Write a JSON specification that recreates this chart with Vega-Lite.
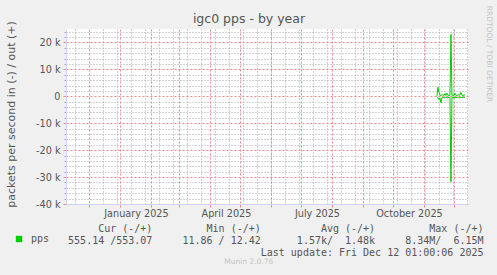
{
  "$schema": "https://vega.github.io/schema/vega-lite/v6.json",
  "width": 402,
  "height": 175,
  "autosize": {"type": "none"},
  "padding": {"left": 66, "top": 29, "right": 29, "bottom": 71},
  "background": "#f0f0f0",
  "config": {
    "view": {"fill": "#ffffff", "stroke": null},
    "axis": {"labelFont": "DejaVu Sans", "titleFont": "DejaVu Sans", "titleFontWeight": "normal", "labelColor": "#555555", "titleColor": "#555555"}
  },
  "title": {"text": "Munin 2.0.76", "orient": "bottom", "anchor": "middle", "frame": "bounds", "font": "DejaVu Sans", "fontSize": 7.5, "fontWeight": "normal", "color": "#c4c4c4", "offset": 1},
  "datasets": {
    "pps": [
      {"t": "2025-11-14T00:00:00Z", "dir": "out", "v": 100},
      {"t": "2025-11-15T00:00:00Z", "dir": "out", "v": 3400},
      {"t": "2025-11-16T00:00:00Z", "dir": "out", "v": 1500},
      {"t": "2025-11-17T00:00:00Z", "dir": "out", "v": 400},
      {"t": "2025-11-18T00:00:00Z", "dir": "out", "v": 300},
      {"t": "2025-11-19T00:00:00Z", "dir": "out", "v": 600},
      {"t": "2025-11-20T00:00:00Z", "dir": "out", "v": 500},
      {"t": "2025-11-21T00:00:00Z", "dir": "out", "v": 300},
      {"t": "2025-11-22T00:00:00Z", "dir": "out", "v": 1000},
      {"t": "2025-11-23T00:00:00Z", "dir": "out", "v": 300},
      {"t": "2025-11-24T00:00:00Z", "dir": "out", "v": 1200},
      {"t": "2025-11-25T00:00:00Z", "dir": "out", "v": 400},
      {"t": "2025-11-26T00:00:00Z", "dir": "out", "v": 400},
      {"t": "2025-11-27T00:00:00Z", "dir": "out", "v": 300},
      {"t": "2025-11-28T00:00:00Z", "dir": "out", "v": 23000},
      {"t": "2025-11-29T00:00:00Z", "dir": "out", "v": 300},
      {"t": "2025-11-30T00:00:00Z", "dir": "out", "v": 500},
      {"t": "2025-12-01T00:00:00Z", "dir": "out", "v": 400},
      {"t": "2025-12-02T00:00:00Z", "dir": "out", "v": 1100},
      {"t": "2025-12-03T00:00:00Z", "dir": "out", "v": 400},
      {"t": "2025-12-04T00:00:00Z", "dir": "out", "v": 300},
      {"t": "2025-12-05T00:00:00Z", "dir": "out", "v": 600},
      {"t": "2025-12-06T00:00:00Z", "dir": "out", "v": 400},
      {"t": "2025-12-07T00:00:00Z", "dir": "out", "v": 500},
      {"t": "2025-12-08T00:00:00Z", "dir": "out", "v": 1500},
      {"t": "2025-12-09T00:00:00Z", "dir": "out", "v": 400},
      {"t": "2025-12-10T00:00:00Z", "dir": "out", "v": 300},
      {"t": "2025-12-11T00:00:00Z", "dir": "out", "v": 500},
      {"t": "2025-12-12T00:00:00Z", "dir": "out", "v": 500},
      {"t": "2025-11-14T00:00:00Z", "dir": "in", "v": -100},
      {"t": "2025-11-15T00:00:00Z", "dir": "in", "v": -600},
      {"t": "2025-11-16T00:00:00Z", "dir": "in", "v": -1200},
      {"t": "2025-11-17T00:00:00Z", "dir": "in", "v": -600},
      {"t": "2025-11-18T00:00:00Z", "dir": "in", "v": -2400},
      {"t": "2025-11-19T00:00:00Z", "dir": "in", "v": -500},
      {"t": "2025-11-20T00:00:00Z", "dir": "in", "v": -300},
      {"t": "2025-11-21T00:00:00Z", "dir": "in", "v": -700},
      {"t": "2025-11-22T00:00:00Z", "dir": "in", "v": -400},
      {"t": "2025-11-23T00:00:00Z", "dir": "in", "v": -300},
      {"t": "2025-11-24T00:00:00Z", "dir": "in", "v": -500},
      {"t": "2025-11-25T00:00:00Z", "dir": "in", "v": -600},
      {"t": "2025-11-26T00:00:00Z", "dir": "in", "v": -300},
      {"t": "2025-11-27T00:00:00Z", "dir": "in", "v": -400},
      {"t": "2025-11-28T00:00:00Z", "dir": "in", "v": -31700},
      {"t": "2025-11-29T00:00:00Z", "dir": "in", "v": -400},
      {"t": "2025-11-30T00:00:00Z", "dir": "in", "v": -300},
      {"t": "2025-12-01T00:00:00Z", "dir": "in", "v": -600},
      {"t": "2025-12-02T00:00:00Z", "dir": "in", "v": -300},
      {"t": "2025-12-03T00:00:00Z", "dir": "in", "v": -500},
      {"t": "2025-12-04T00:00:00Z", "dir": "in", "v": -400},
      {"t": "2025-12-05T00:00:00Z", "dir": "in", "v": -300},
      {"t": "2025-12-06T00:00:00Z", "dir": "in", "v": -700},
      {"t": "2025-12-07T00:00:00Z", "dir": "in", "v": -400},
      {"t": "2025-12-08T00:00:00Z", "dir": "in", "v": -300},
      {"t": "2025-12-09T00:00:00Z", "dir": "in", "v": -500},
      {"t": "2025-12-10T00:00:00Z", "dir": "in", "v": -400},
      {"t": "2025-12-11T00:00:00Z", "dir": "in", "v": -300},
      {"t": "2025-12-12T00:00:00Z", "dir": "in", "v": -500}
    ]
  },
  "resolve": {"axis": {"x": "independent", "y": "independent"}},
  "layer": [
    {
      "mark": {"type": "rule", "color": "#000000", "strokeWidth": 1},
      "encoding": {
        "x": {
          "datum": {"year": 2024, "month": 11, "date": 8, "hours": 1, "utc": true},
          "type": "temporal",
          "scale": {"type": "utc", "domain": [{"year": 2024, "month": 11, "date": 8, "hours": 1, "utc": true}, {"year": 2025, "month": 12, "date": 15, "hours": 1, "utc": true}]},
          "axis": {
            "orient": "top",
            "values": [
              {"year": 2024, "month": 11, "date": 17, "utc": true},
              {"year": 2024, "month": 12, "date": 15, "utc": true},
              {"year": 2024, "month": 12, "date": 29, "utc": true},
              {"year": 2025, "month": 1, "date": 12, "utc": true},
              {"year": 2025, "month": 1, "date": 26, "utc": true},
              {"year": 2025, "month": 2, "date": 9, "utc": true},
              {"year": 2025, "month": 2, "date": 23, "utc": true},
              {"year": 2025, "month": 3, "date": 9, "utc": true},
              {"year": 2025, "month": 3, "date": 23, "utc": true},
              {"year": 2025, "month": 4, "date": 6, "utc": true},
              {"year": 2025, "month": 4, "date": 20, "utc": true},
              {"year": 2025, "month": 5, "date": 4, "utc": true},
              {"year": 2025, "month": 5, "date": 18, "utc": true},
              {"year": 2025, "month": 6, "date": 1, "utc": true},
              {"year": 2025, "month": 6, "date": 15, "utc": true},
              {"year": 2025, "month": 6, "date": 29, "utc": true},
              {"year": 2025, "month": 7, "date": 13, "utc": true},
              {"year": 2025, "month": 7, "date": 27, "utc": true},
              {"year": 2025, "month": 8, "date": 10, "utc": true},
              {"year": 2025, "month": 8, "date": 24, "utc": true},
              {"year": 2025, "month": 9, "date": 7, "utc": true},
              {"year": 2025, "month": 9, "date": 21, "utc": true},
              {"year": 2025, "month": 10, "date": 5, "utc": true},
              {"year": 2025, "month": 10, "date": 19, "utc": true},
              {"year": 2025, "month": 11, "date": 2, "utc": true},
              {"year": 2025, "month": 11, "date": 16, "utc": true},
              {"year": 2025, "month": 11, "date": 30, "utc": true},
              {"year": 2025, "month": 12, "date": 14, "utc": true}
            ],
            "grid": true, "gridColor": "#a8a8a8", "gridDash": [1, 2], "gridWidth": 1,
            "ticks": false, "labels": false, "domain": false,
            "title": "igc0 pps - by year", "titleFontSize": 12.5, "titleColor": "#555555",
            "titleX": 182.5, "titleY": -7, "titleAlign": "center", "titleBaseline": "alphabetic", "titleAngle": 0
          }
        },
        "x2": {"datum": {"year": 2025, "month": 12, "date": 12, "hours": 1, "utc": true}},
        "y": {
          "datum": 0,
          "type": "quantitative",
          "scale": {"domain": [-40000, 25000], "nice": false, "zero": false},
          "axis": {
            "orient": "left",
            "values": [-38000, -36000, -34000, -32000, -28000, -26000, -24000, -22000, -18000, -16000, -14000, -12000, -8000, -6000, -4000, -2000, 2000, 4000, 6000, 8000, 12000, 14000, 16000, 18000, 22000, 24000],
            "grid": true, "gridColor": "#a8a8a8", "gridDash": [1, 2], "gridWidth": 1,
            "ticks": true, "tickSize": 2, "tickColor": "#aaaaaa",
            "labels": false, "domain": false, "title": null
          }
        }
      }
    },
    {
      "data": {"name": "pps"},
      "mark": {"type": "line", "strokeWidth": 1, "interpolate": "linear"},
      "encoding": {
        "x": {
          "field": "t",
          "type": "temporal",
          "scale": {"type": "utc", "domain": [{"year": 2024, "month": 11, "date": 8, "hours": 1, "utc": true}, {"year": 2025, "month": 12, "date": 15, "hours": 1, "utc": true}]},
          "axis": {
            "orient": "bottom",
            "values": [
              {"year": 2024, "month": 12, "date": 1, "utc": true},
              {"year": 2025, "month": 1, "date": 1, "utc": true},
              {"year": 2025, "month": 2, "date": 1, "utc": true},
              {"year": 2025, "month": 3, "date": 1, "utc": true},
              {"year": 2025, "month": 4, "date": 1, "utc": true},
              {"year": 2025, "month": 5, "date": 1, "utc": true},
              {"year": 2025, "month": 6, "date": 1, "utc": true},
              {"year": 2025, "month": 7, "date": 1, "utc": true},
              {"year": 2025, "month": 8, "date": 1, "utc": true},
              {"year": 2025, "month": 9, "date": 1, "utc": true},
              {"year": 2025, "month": 10, "date": 1, "utc": true},
              {"year": 2025, "month": 11, "date": 1, "utc": true},
              {"year": 2025, "month": 12, "date": 1, "utc": true}
            ],
            "grid": true, "gridColor": "#e88c8c", "gridDash": [2, 2], "gridWidth": 1,
            "ticks": true, "tickSize": 3, "tickColor": "#e88c8c",
            "labels": false, "domain": false, "title": null
          }
        },
        "y": {
          "field": "v",
          "type": "quantitative",
          "scale": {"domain": [-40000, 25000], "nice": false, "zero": false},
          "axis": {
            "orient": "left",
            "values": [-40000, -30000, -20000, -10000, 0, 10000, 20000],
            "grid": true, "gridColor": "#e88c8c", "gridDash": [2, 2], "gridWidth": 1,
            "ticks": true, "tickSize": 3, "tickColor": "#e88c8c",
            "labels": true, "labelExpr": "datum.value == 0 ? '0' : (datum.value / 1000) + ' k'",
            "labelFontSize": 9.7, "labelPadding": 3,
            "domain": true, "domainColor": "#CFD6F8",
            "title": "packets per second in (-) / out (+)", "titleFontSize": 11,
            "titleX": -55, "titleY": 85, "titleAngle": -90, "titleAlign": "center", "titleBaseline": "middle"
          }
        },
        "color": {
          "datum": "pps",
          "type": "nominal",
          "scale": {"range": ["#00cc00"]},
          "legend": {
            "orient": "none", "legendX": -52, "legendY": 205, "title": null, "padding": 0,
            "symbolType": "square", "symbolSize": 40, "symbolStrokeWidth": 0,
            "labelFont": "DejaVu Sans Mono", "labelFontSize": 10, "labelColor": "#555555", "labelOffset": 7,
            "encode": {"symbols": {"update": {"fill": {"value": "#00cc00"}, "stroke": {"value": "#00cc00"}, "strokeWidth": {"value": 0}}}}
          }
        },
        "detail": {"field": "dir", "type": "nominal"}
      }
    },
    {
      "mark": {"type": "point", "shape": "triangle-right", "filled": true, "color": "#CFD6F8", "size": 28, "opacity": 1, "clip": false},
      "encoding": {
        "x": {
          "datum": {"year": 2025, "month": 12, "date": 17, "hours": 13, "utc": true},
          "type": "temporal",
          "scale": {"type": "utc", "domain": [{"year": 2024, "month": 11, "date": 8, "hours": 1, "utc": true}, {"year": 2025, "month": 12, "date": 15, "hours": 1, "utc": true}]},
          "axis": {
            "orient": "bottom",
            "values": [
              {"year": 2025, "month": 1, "date": 17, "utc": true},
              {"year": 2025, "month": 4, "date": 17, "utc": true},
              {"year": 2025, "month": 7, "date": 17, "utc": true},
              {"year": 2025, "month": 10, "date": 17, "utc": true}
            ],
            "labelExpr": "utcFormat(datum.value, '%B %Y')",
            "labelFontSize": 9.7, "labelPadding": 4, "labelFlush": false, "labelOverlap": false,
            "ticks": false, "grid": false,
            "domain": true, "domainColor": "#CFD6F8",
            "title": [
              "Cur (-/+)\u00a0\u00a0\u00a0\u00a0\u00a0\u00a0\u00a0\u00a0\u00a0Min (-/+)\u00a0\u00a0\u00a0\u00a0\u00a0\u00a0\u00a0\u00a0\u00a0\u00a0Avg (-/+)\u00a0\u00a0\u00a0\u00a0\u00a0\u00a0\u00a0\u00a0\u00a0Max (-/+)\u00a0",
              "555.14 /553.07\u00a0\u00a0\u00a0\u00a0\u00a011.86 / 12.42\u00a0\u00a0\u00a0\u00a0\u00a0\u00a01.57k/\u00a0\u00a01.48k\u00a0\u00a0\u00a0\u00a0\u00a08.34M/\u00a0\u00a06.15M",
              "Last update: Fri Dec 12 01:00:06 2025"
            ],
            "titleFont": "DejaVu Sans Mono", "titleFontSize": 10, "titleColor": "#555555",
            "titleAlign": "right", "titleBaseline": "alphabetic", "titleX": 417, "titleY": 27, "titleLineHeight": 12, "titleAngle": 0
          }
        },
        "y": {
          "datum": -40000,
          "type": "quantitative",
          "scale": {"domain": [-40000, 25000], "nice": false, "zero": false},
          "axis": {
            "orient": "right", "domain": false, "ticks": false, "labels": false, "grid": false,
            "title": "RRDTOOL / TOBI OETIKER", "titleFontSize": 7.5, "titleColor": "#c4c4c4",
            "titleAngle": 90, "titleX": 20.5, "titleY": 24.5, "titleAlign": "center", "titleBaseline": "middle"
          }
        }
      }
    },
    {
      "mark": {"type": "point", "shape": "triangle-up", "filled": true, "color": "#CFD6F8", "size": 28, "opacity": 1, "clip": false},
      "encoding": {
        "x": {
          "datum": {"year": 2024, "month": 11, "date": 8, "hours": 1, "utc": true},
          "type": "temporal",
          "scale": {"type": "utc", "domain": [{"year": 2024, "month": 11, "date": 8, "hours": 1, "utc": true}, {"year": 2025, "month": 12, "date": 15, "hours": 1, "utc": true}]},
          "axis": null
        },
        "y": {
          "datum": 26700,
          "type": "quantitative",
          "scale": {"domain": [-40000, 25000], "nice": false, "zero": false},
          "axis": null
        }
      }
    }
  ]
}
